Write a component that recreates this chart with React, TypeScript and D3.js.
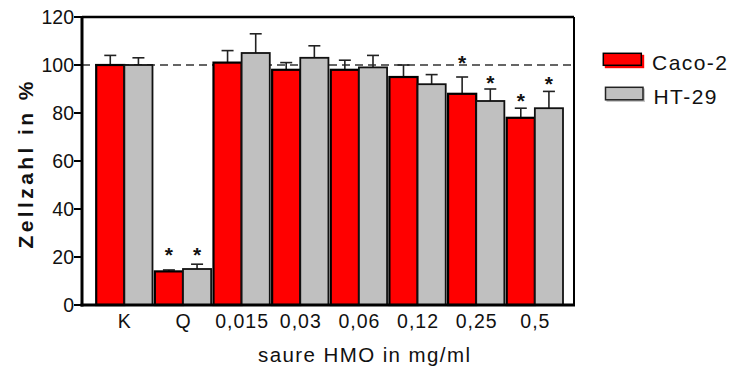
import React from "react";
import * as d3 from "d3";

const categories = ["K", "Q", "0,015", "0,03", "0,06", "0,12", "0,25", "0,5"];
const seriesNames = ["Caco-2", "HT-29"];
const cacoValues = [100, 14, 101, 98, 98, 95, 88, 78];
const cacoErrors = [4, 0.6, 5, 3, 4, 5, 7, 4];
const htValues = [100, 15, 105, 103, 99, 92, 85, 82];
const htErrors = [3, 2, 8, 5, 5, 4, 5, 7];
const cacoStars: (number | null)[] = [null, 23, null, null, null, null, 103, 87];
const htStars: (number | null)[] = [null, 23, null, null, null, null, 94.5, 94];
const yTicks = [0, 20, 40, 60, 80, 100, 120];
const refLine = 100;

const FONT = "'Liberation Sans', Arial, sans-serif";

export default function App() {
  const W = 731, H = 369;
  const left = 82, right = 574, top = 17, bottom = 305;
  const y = d3.scaleLinear().domain([0, 120]).range([bottom, top]);
  const x = d3.scaleBand<string>().domain(categories).range([96.2, 563]).paddingInner(0.04).paddingOuter(0);
  const bw = x.bandwidth() / 2;
  const series = [
    { vals: cacoValues, errs: cacoErrors, stars: cacoStars, fill: "#ff0000", stroke: "#000", sw: 2.2 },
    { vals: htValues, errs: htErrors, stars: htStars, fill: "#c0c0c0", stroke: "#111", sw: 1.8 },
  ];
  return (
    <svg width={W} height={H} style={{ position: "absolute", left: 0, top: 0 }} fontFamily={FONT}>
      <rect x={0} y={0} width={W} height={H} fill="#fff" />
      <line x1={left} x2={right} y1={y(refLine)} y2={y(refLine)} stroke="#333" strokeWidth={1.5} strokeDasharray="8,5" />
      {series.map((s, si) =>
        categories.map((c, i) => {
          const x0 = (x(c) as number) + si * bw;
          const cx = x0 + bw / 2;
          const yTop = y(s.vals[i]);
          const yErr = y(s.vals[i] + s.errs[i]);
          return (
            <g key={`${si}-${i}`}>
              <line x1={cx} x2={cx} y1={yTop} y2={yErr} stroke="#222" strokeWidth={1.6} />
              <line x1={cx - 6} x2={cx + 6} y1={yErr} y2={yErr} stroke="#222" strokeWidth={1.6} />
              <rect x={x0} y={yTop} width={bw} height={bottom - yTop} fill={s.fill} stroke={s.stroke} strokeWidth={s.sw} />
              {s.stars[i] != null && (
                <text x={cx} y={y(s.stars[i] as number) + 12} textAnchor="middle" fontSize={21} fontWeight="bold" fill="#111">*</text>
              )}
            </g>
          );
        })
      )}
      <line x1={left} x2={right} y1={top} y2={top} stroke="#000" strokeWidth={2.5} />
      <line x1={right} x2={right} y1={top} y2={bottom} stroke="#000" strokeWidth={2} />
      <line x1={left} x2={left} y1={top - 1} y2={bottom + 1.5} stroke="#000" strokeWidth={3} />
      <line x1={left - 1.5} x2={right + 1} y1={bottom} y2={bottom} stroke="#000" strokeWidth={3} />
      {yTicks.map((t) => (
        <g key={t}>
          <line x1={left - 8} x2={left} y1={y(t)} y2={y(t)} stroke="#000" strokeWidth={2} />
          <text x={left - 8} y={y(t)} dy="0.36em" textAnchor="end" fontSize={19.5} fill="#111">{t}</text>
        </g>
      ))}
      {categories.map((c) => (
        <text key={c} x={(x(c) as number) + x.bandwidth() / 2 + 0.5} y={327.5} textAnchor="middle" fontSize={19.5} letterSpacing={1} fill="#111">{c}</text>
      ))}
      <text x={258} y={362} fontSize={20.5} textLength={212} lengthAdjust="spacing" fill="#111">saure HMO in mg/ml</text>
      <text transform="translate(33,165) rotate(-90)" textAnchor="middle" fontSize={21} fontWeight="bold" textLength={167} lengthAdjust="spacing" fill="#111">Zellzahl in %</text>
      <rect x={604.8} y={54.8} width={39.4} height={13.4} fill="#ff0000" />
      <rect x={603.3} y={53.3} width={38} height={12} fill="#ff0000" stroke="#000" strokeWidth={1.5} />
      <rect x={606.5} y={88.5} width={38.5} height={13.5} fill="#c8c8c8" />
      <rect x={605.5} y={87.3} width={37.5} height={12.5} fill="#c0c0c0" stroke="#222" strokeWidth={1.5} />
      <text x={652} y={70} fontSize={21} textLength={75} lengthAdjust="spacing" fill="#111">{seriesNames[0]}</text>
      <text x={653.5} y={103.5} fontSize={21} textLength={63} lengthAdjust="spacing" fill="#111">{seriesNames[1]}</text>
    </svg>
  );
}
